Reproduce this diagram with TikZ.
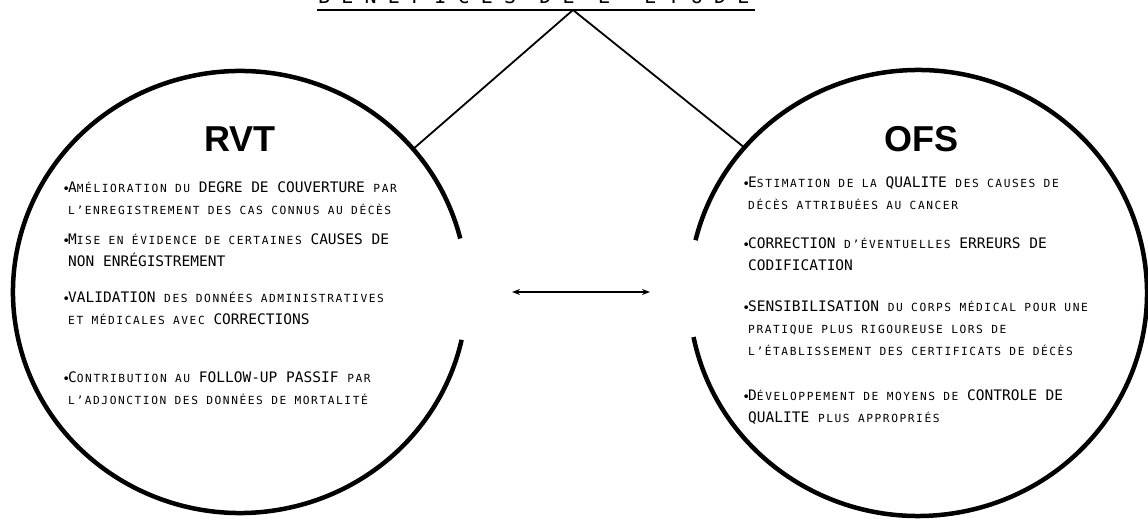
\documentclass[tikz,border=0pt]{standalone}
\usepackage{fontspec}
\setmainfont{DejaVu Sans Mono}
\newfontfamily\headfont{Liberation Sans}
\usetikzlibrary{calc,arrows.meta}
% lower-case words are set as small capitals
\newcommand{\sm}[1]{{\fontsize{11.2}{22}\selectfont\addfontfeature{LetterSpace=14}#1}}
\newcommand{\bul}{\llap{\fontsize{13}{13}\selectfont\raisebox{-0.5pt}{•}\kern-2pt}}

\begin{document}
\begin{tikzpicture}[x=1pt,y=1pt,
  ring/.style={line width=4.5pt},
  link/.style={line width=1.8pt},
  item/.style={anchor=base west, align=left, inner sep=0pt, font=\fontsize{14.5}{22}\selectfont},
  head/.style={font=\headfont\bfseries\fontsize{36}{36}\selectfont}]
\useasboundingbox (0,0) rectangle (1148,519);
% Title, cut by the top edge, and its underline
\node[anchor=base west, inner sep=0pt, font=\fontsize{20}{20}\selectfont\addfontfeature{LetterSpace=56}] (title) at (318,515) {BENEFICES DE L’ETUDE};
\coordinate (ul-a) at (317,509);
\coordinate (ul-b) at (755,509);
\coordinate (apex) at (573,509);
\draw[link] (ul-a) -- (ul-b);
% Centres of the two circles
\coordinate (rvt) at (240,227);
\coordinate (ofs) at (918,226);
% Circles, open on the side facing the other one
\draw[ring] ($(rvt)+(14:227 and 221)$) arc[start angle=14, end angle=347.5, x radius=227, y radius=221];
\draw[ring] ($(ofs)+(191.4:229 and 223)$) arc[start angle=191.4, end angle=526.3, x radius=229, y radius=223];
% Lines from the title down to the circles
\coordinate (rvt-in) at ($(rvt)+(40.3:227 and 221)$);
\coordinate (ofs-in) at ($(ofs)+(139.3:229 and 223)$);
\draw[link] (apex) -- (rvt-in);
\draw[link] (apex) -- (ofs-in);
% Headings
\node[head] (rvt-head) at (240,380) {RVT};
\node[head] (ofs-head) at (921,380) {OFS};
% RVT items (base = last line)
\node[item] (rvt1) at (68,304) {\bul A\sm{MÉLIORATION DU} DEGRE DE COUVERTURE \sm{PAR}\\\sm{L’ENREGISTREMENT DES CAS CONNUS AU DÉCÈS}};
\node[item] (rvt2) at (68,252) {\bul M\sm{ISE EN ÉVIDENCE DE CERTAINES} CAUSES DE\\NON ENRÉGISTREMENT};
\node[item] (rvt3) at (68,194) {\bul VALIDATION \sm{DES DONNÉES ADMINISTRATIVES}\\\sm{ET MÉDICALES AVEC} CORRECTIONS};
\node[item] (rvt4) at (68,114) {\bul C\sm{ONTRIBUTION AU} FOLLOW-UP PASSIF \sm{PAR}\\\sm{L’ADJONCTION DES DONNÉES DE MORTALITÉ}};
% OFS items
\node[item] (ofs1) at (748,309) {\bul E\sm{STIMATION DE LA} QUALITE \sm{DES CAUSES DE}\\\sm{DÉCÈS ATTRIBUÉES AU CANCER}};
\node[item] (ofs2) at (748,248) {\bul CORRECTION \sm{D’ÉVENTUELLES} ERREURS DE\\CODIFICATION};
\node[item] (ofs3) at (748,163) {\bul SENSIBILISATION \sm{DU CORPS MÉDICAL POUR UNE}\\\sm{PRATIQUE PLUS RIGOUREUSE LORS DE}\\\sm{L’ÉTABLISSEMENT DES CERTIFICATS DE DÉCÈS}};
\node[item] (ofs4) at (748,96) {\bul D\sm{ÉVELOPPEMENT DE MOYENS DE} CONTROLE DE\\QUALITE \sm{PLUS APPROPRIÉS}};
% Double arrow between the circles
\coordinate (arr-l) at (512,227);
\coordinate (arr-r) at (650,227);
\draw[line width=2.2pt, {Stealth[length=8pt,width=6pt]}-{Stealth[length=8pt,width=6pt]}] (arr-l) -- (arr-r);
\end{tikzpicture}
\end{document}
